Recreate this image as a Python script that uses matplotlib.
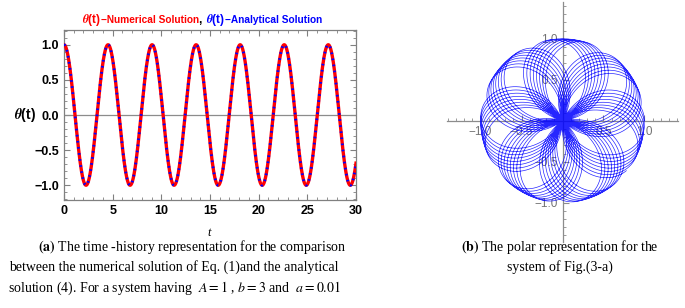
import numpy as np
import matplotlib
matplotlib.use("Agg")
import matplotlib.pyplot as plt
from matplotlib.ticker import MultipleLocator, FixedLocator

plt.rcParams['font.family'] = ['Liberation Sans', 'DejaVu Sans']
plt.rcParams['mathtext.fontset'] = 'stix'

# values
peak_times = [0.0, 4.53, 9.06, 13.6, 18.1, 22.65, 27.15]   # maxima of theta(t)
amplitude = 1.0
t_end = 30.0
polar_period = 4.468      # from the slow clockwise drift of the 7 petal bundles
polar_t_end = 125.0

x_ticks = [0, 5, 10, 15, 20, 25, 30]
y_ticks = [-1.0, -0.5, 0.0, 0.5, 1.0]
polar_ticks = [-1.0, -0.5, 0.5, 1.0]

period = np.mean(np.diff(peak_times))
omega = 2 * np.pi / period

t = np.linspace(0, t_end, 2000)
theta = amplitude * np.cos(omega * t)

tp = np.linspace(0, polar_t_end, 12000)
rp = amplitude * np.cos(2 * np.pi / polar_period * tp)

W, H = 685, 308
fig = plt.figure(figsize=(W / 100, H / 100), dpi=100)


def box(x0, y0, x1, y1):
    return [x0 / W, 1 - y1 / H, (x1 - x0) / W, (y1 - y0) / H]


# (a) time history
ax = fig.add_axes(box(64, 30, 356, 200))
ax.plot(t, theta, color='red', lw=2.4, zorder=3)
ax.plot(t, theta, color='blue', lw=2.0, ls=(0, (0.6, 1.6)), zorder=4)
ax.axhline(0, color='0.55', lw=0.9, zorder=2)
ax.set_xlim(0, t_end)
ax.set_ylim(-1.21, 1.21)
ax.set_xticks(x_ticks)
ax.set_yticks(y_ticks)
ax.set_yticklabels([f"{v:.1f}".replace('-', '\u2212') for v in y_ticks])
ax.xaxis.set_minor_locator(MultipleLocator(1))
ax.yaxis.set_minor_locator(MultipleLocator(0.1))
ax.tick_params(which='both', direction='in', top=True, right=True, color='0.5')
ax.tick_params(which='major', length=4, labelsize=9)
ax.tick_params(which='minor', length=2)
for lab in ax.get_xticklabels() + ax.get_yticklabels():
    lab.set_fontweight('bold')
for s in ax.spines.values():
    s.set_color('0.5')
    s.set_linewidth(0.9)

fig.text(14 / W, 1 - 115 / H, r"$\boldsymbol{\theta}$(t)", fontsize=10,
         fontweight='bold', va='center', ha='left')
fig.text(209 / W, 1 - 233 / H, "t", fontsize=9, style='italic',
         family='Liberation Serif', va='center', ha='center')

# coloured title pieces
renderer = fig.canvas.get_renderer()
pieces = [(r"$\boldsymbol{\theta}$(t)", 'red', 8.5), ("\u2212Numerical Solution", 'red', 7.3),
          (", ", 'black', 8.5),
          (r"$\boldsymbol{\theta}$(t)", 'blue', 8.5), ("\u2212Analytical Solution", 'blue', 7.3)]
xpos = 82
for s, c, fs in pieces:
    txt = fig.text(xpos / W, 1 - 20 / H, s, color=c, fontsize=fs, fontweight='bold',
                   va='center', ha='left')
    xpos += txt.get_window_extent(renderer).width

# (b) polar representation
pax = fig.add_axes(box(447, 2, 678, 242))
pax.plot(rp * np.cos(tp), rp * np.sin(tp), color='blue', lw=0.5, alpha=0.85, zorder=3)
pax.set_xlim(-1.41, 1.41)
pax.set_ylim(-1.48, 1.45)
pax.patch.set_alpha(0)
pax.spines['left'].set_position('zero')
pax.spines['bottom'].set_position('zero')
pax.spines['top'].set_visible(False)
pax.spines['right'].set_visible(False)
for s in ('left', 'bottom'):
    pax.spines[s].set_color('0.55')
    pax.spines[s].set_linewidth(0.9)
pax.xaxis.set_major_locator(FixedLocator(polar_ticks))
pax.yaxis.set_major_locator(FixedLocator(polar_ticks))
pax.xaxis.set_minor_locator(MultipleLocator(0.1))
pax.yaxis.set_minor_locator(MultipleLocator(0.1))
pax.set_xticklabels([f"{v:.1f}".replace('-', '\u2212') for v in polar_ticks])
pax.set_yticklabels([f"{v:.1f}".replace('-', '\u2212') for v in polar_ticks])
pax.tick_params(which='both', direction='in', color='0.55', labelcolor='0.45', labelsize=8.5)
pax.tick_params(which='major', length=4)
pax.tick_params(which='minor', length=2)

# captions
cap = dict(family='Liberation Serif', fontsize=10, va='center', ha='center')
fig.text(192 / W, 1 - 247 / H,
         r"$\mathbf{(a)}$ The time -history representation for the comparison", **cap)
fig.text(174 / W, 1 - 267 / H,
         "between the numerical solution of Eq. (1)and the analytical", **cap)
fig.text(174 / W, 1 - 288 / H,
         "solution (4). For a system having  $A=1$ , $b=3$ and  $a=0.01$", **cap)
fig.text(560 / W, 1 - 247 / H,
         r"$\mathbf{(b)}$ The polar representation for the", **cap)
fig.text(560 / W, 1 - 267 / H, "system of Fig.(3-a)", **cap)

fig.savefig("out.png", dpi=100)
